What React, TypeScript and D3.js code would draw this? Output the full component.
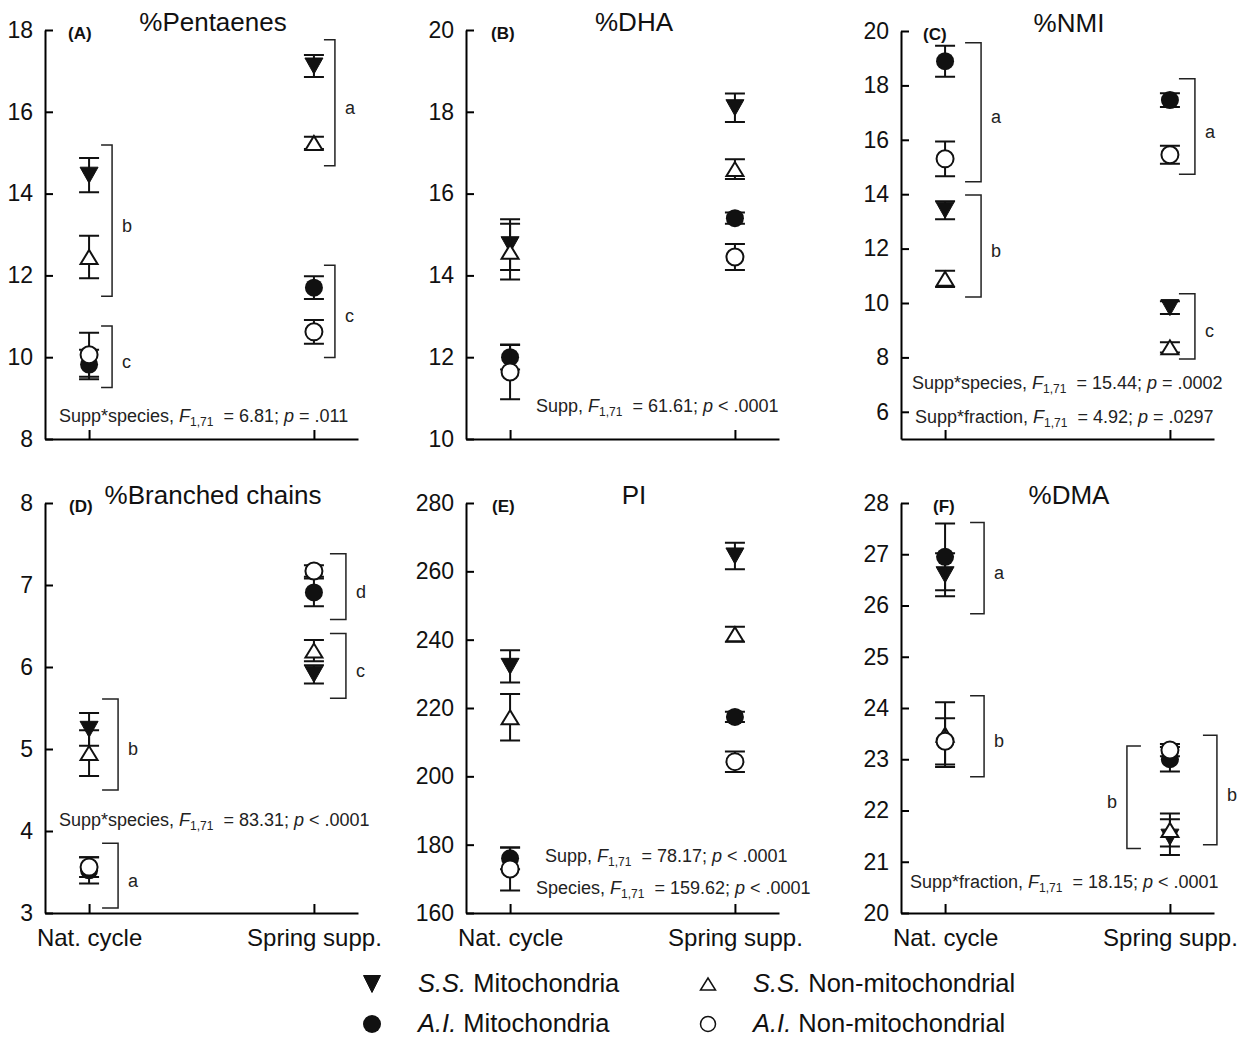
import React, { useEffect, useRef } from "react";
import * as d3 from "d3";

const categories = ["Nat. cycle", "Spring supp."];
const seriesKeys = ["ssMito", "ssNon", "aiMito", "aiNon"];

// (A) %Pentaenes
const pentaenesMean = { ssMito: [14.45, 17.12], ssNon: [12.45, 15.24], aiMito: [9.82, 11.7], aiNon: [10.06, 10.62] };
const pentaenesErr = { ssMito: [0.42, 0.27], ssNon: [0.52, 0.15], aiMito: [0.36, 0.28], aiNon: [0.54, 0.29] };
// (B) %DHA
const dhaMean = { ssMito: [14.75, 18.1], ssNon: [14.58, 16.6], aiMito: [12.0, 15.4], aiNon: [11.64, 14.45] };
const dhaErr = { ssMito: [0.62, 0.35], ssNon: [0.68, 0.24], aiMito: [0.3, 0.14], aiNon: [0.67, 0.32] };
// (C) %NMI
const nmiMean = { ssMito: [13.41, 9.83], ssNon: [10.89, 8.37], aiMito: [18.89, 17.46], aiNon: [15.3, 15.45] };
const nmiErr = { ssMito: [0.33, 0.23], ssNon: [0.3, 0.19], aiMito: [0.57, 0.25], aiNon: [0.64, 0.33] };
// (D) %Branched chains
const branchedMean = { ssMito: [5.24, 5.91], ssNon: [4.95, 6.2], aiMito: [3.52, 6.91], aiNon: [3.56, 7.17] };
const branchedErr = { ssMito: [0.2, 0.11], ssNon: [0.28, 0.13], aiMito: [0.16, 0.17], aiNon: [0.12, 0.07] };
// (E) PI
const piMean = { ssMito: [232.2, 264.5], ssNon: [217.3, 241.6], aiMito: [176.0, 217.4], aiNon: [172.9, 204.3] };
const piErr = { ssMito: [4.7, 3.9], ssNon: [6.8, 2.2], aiMito: [3.2, 1.5], aiNon: [6.3, 3.0] };
// (F) %DMA
const dmaMean = { ssMito: [26.6, 21.48], ssNon: [23.48, 21.62], aiMito: [26.95, 23.0], aiNon: [23.35, 23.18] };
const dmaErr = { ssMito: [0.42, 0.35], ssNon: [0.63, 0.32], aiMito: [0.65, 0.24], aiNon: [0.45, 0.12] };

// significance brackets: category index, value range, letter
const pentaenesBrackets = [
  { cat: 0, lo: 11.49, hi: 15.19, label: "b" },
  { cat: 0, lo: 9.26, hi: 10.76, label: "c" },
  { cat: 1, lo: 14.68, hi: 17.76, label: "a" },
  { cat: 1, lo: 9.99, hi: 12.25, label: "c" },
];
const nmiBrackets = [
  { cat: 0, lo: 14.46, hi: 19.57, label: "a" },
  { cat: 0, lo: 10.22, hi: 13.97, label: "b" },
  { cat: 1, lo: 14.73, hi: 18.24, label: "a" },
  { cat: 1, lo: 7.94, hi: 10.34, label: "c" },
];
const branchedBrackets = [
  { cat: 0, lo: 4.5, hi: 5.61, label: "b" },
  { cat: 0, lo: 3.06, hi: 3.85, label: "a" },
  { cat: 1, lo: 6.58, hi: 7.38, label: "d" },
  { cat: 1, lo: 5.62, hi: 6.41, label: "c" },
];
const dmaBrackets = [
  { cat: 0, lo: 25.84, hi: 27.62, label: "a" },
  { cat: 0, lo: 22.66, hi: 24.24, label: "b" },
  { cat: 1, lo: 21.26, hi: 23.26, label: "b" },
  { cat: 1, lo: 21.33, hi: 23.47, label: "b" },
];

// statistics text: label, F value, p operator, p value
const pentaenesStats = [["Supp*species,", "6.81", "=", ".011"]];
const dhaStats = [["Supp,", "61.61", "<", ".0001"]];
const nmiStats = [["Supp*species,", "15.44", "=", ".0002"], ["Supp*fraction,", "4.92", "=", ".0297"]];
const branchedStats = [["Supp*species,", "83.31", "<", ".0001"]];
const piStats = [["Supp,", "78.17", "<", ".0001"], ["Species,", "159.62", "<", ".0001"]];
const dmaStats = [["Supp*fraction,", "18.15", "<", ".0001"]];

const legendLabels = [
  ["S.S.", " Mitochondria"],
  ["S.S.", " Non-mitochondrial"],
  ["A.I.", " Mitochondria"],
  ["A.I.", " Non-mitochondrial"],
];

const FONT = "'Liberation Sans', Arial, Helvetica, sans-serif";

// layout only
const panels = [
  { tag: "(A)", title: "%Pentaenes", mean: pentaenesMean, err: pentaenesErr, brackets: pentaenesBrackets, bdx: [23, 23, 21, 21], arm: 11,
    stats: pentaenesStats, statPos: [[14, 422]], x0: 45, top: 30, bottom: 439, domain: [8, 18], ticks: d3.range(8, 19, 2), tagDx: 23, labels: false },
  { tag: "(B)", title: "%DHA", mean: dhaMean, err: dhaErr, brackets: [], bdx: [], arm: 15,
    stats: dhaStats, statPos: [[70, 412]], x0: 466, top: 30, bottom: 439, domain: [10, 20], ticks: d3.range(10, 21, 2), tagDx: 25, labels: false },
  { tag: "(C)", title: "%NMI", mean: nmiMean, err: nmiErr, brackets: nmiBrackets, bdx: [36, 36, 25, 25], arm: 16,
    stats: nmiStats, statPos: [[11, 389], [14, 423]], x0: 901, top: 31, bottom: 439, domain: [5, 20], ticks: d3.range(6, 21, 2), tagDx: 22, labels: false },
  { tag: "(D)", title: "%Branched chains", mean: branchedMean, err: branchedErr, brackets: branchedBrackets, bdx: [29, 29, 32, 32], arm: 16,
    stats: branchedStats, statPos: [[14, 826]], x0: 45, top: 503, bottom: 913, domain: [3, 8], ticks: d3.range(3, 9, 1), tagDx: 24, labels: true },
  { tag: "(E)", title: "PI", mean: piMean, err: piErr, brackets: [], bdx: [], arm: 15,
    stats: piStats, statPos: [[79, 862], [70, 894]], x0: 466, top: 503, bottom: 913, domain: [160, 280], ticks: d3.range(160, 281, 20), tagDx: 26, labels: true },
  { tag: "(F)", title: "%DMA", mean: dmaMean, err: dmaErr, brackets: dmaBrackets, bdx: [39, 39, -43, 47], arm: 14,
    stats: dmaStats, statPos: [[9, 888]], x0: 901, top: 503, bottom: 913, domain: [20, 28], ticks: d3.range(20, 29, 1), tagDx: 32, labels: true },
];

const tri = (w, h, down) =>
  down ? `M${-w / 2},${-h / 2}L${w / 2},${-h / 2}L0,${h / 2}Z` : `M${-w / 2},${h / 2}L${w / 2},${h / 2}L0,${-h / 2}Z`;

function drawMarker(g, key, x, y, big) {
  if (key === "ssMito") {
    g.append("path").attr("d", big ? tri(18, 16, true) : tri(17, 17, true)).attr("transform", `translate(${x},${y})`)
      .attr("fill", "#111").attr("stroke", "#111").attr("stroke-width", 1);
  } else if (key === "ssNon") {
    g.append("path").attr("d", big ? tri(17, 14, false) : tri(15, 12, false)).attr("transform", `translate(${x},${y})`)
      .attr("fill", big ? "#fff" : "none").attr("stroke", "#111").attr("stroke-width", big ? 2 : 1.5);
  } else if (key === "aiMito") {
    g.append("circle").attr("cx", x).attr("cy", y).attr("r", 9).attr("fill", "#111");
  } else {
    g.append("circle").attr("cx", x).attr("cy", y).attr("r", big ? 8.5 : 7.5)
      .attr("fill", big ? "#fff" : "none").attr("stroke", "#111").attr("stroke-width", big ? 2 : 1.5);
  }
}

export default function App() {
  const ref = useRef(null);

  useEffect(() => {
    const svg = d3.select(ref.current);
    svg.selectAll("*").remove();

    panels.forEach((p) => {
      const g = svg.append("g").attr("transform", `translate(${p.x0},0)`);
      const x = d3.scalePoint().domain(categories).range([0, 313]).padding(0.196);
      const y = d3.scaleLinear().domain(p.domain).range([p.bottom, p.top]);

      const yAxis = g.append("g").call(
        d3.axisLeft(y).tickValues(p.ticks).tickSizeInner(-8).tickSizeOuter(0).tickPadding(12).tickFormat(d3.format("d"))
      );
      yAxis.select(".domain").attr("stroke-width", 2);
      yAxis.selectAll(".tick line").attr("stroke-width", 2);
      yAxis.selectAll("text").attr("font-size", 23).attr("font-family", FONT).attr("fill", "#111");

      const xAxis = g.append("g").attr("transform", `translate(0,${p.bottom})`).call(
        d3.axisBottom(x).tickSizeInner(-9).tickSizeOuter(0).tickPadding(16).tickFormat((d) => (p.labels ? d : ""))
      );
      xAxis.select(".domain").attr("stroke-width", 2);
      xAxis.selectAll(".tick line").attr("stroke-width", 2);
      xAxis.selectAll("text").attr("font-size", 24).attr("font-family", FONT).attr("fill", "#111");

      g.append("text").attr("x", 168).attr("y", p.top + 1).attr("text-anchor", "middle")
        .attr("font-size", 26).attr("font-family", FONT).attr("fill", "#111").text(p.title);
      g.append("text").attr("x", p.tagDx).attr("y", p.top + 9).attr("font-size", 17).attr("font-weight", "bold")
        .attr("font-family", FONT).attr("fill", "#111").text(p.tag);

      // brackets
      p.brackets.forEach((b, i) => {
        const bx = x(categories[b.cat]) + p.bdx[i];
        const dir = p.bdx[i] < 0 ? 1 : -1;
        const arm = p.arm;
        g.append("path")
          .attr("d", `M${bx + dir * arm},${y(b.hi)}H${bx}V${y(b.lo)}H${bx + dir * arm}`)
          .attr("fill", "none").attr("stroke", "#222").attr("stroke-width", 1.5);
        g.append("text").attr("x", bx - dir * 10).attr("y", (y(b.hi) + y(b.lo)) / 2 + 5)
          .attr("dominant-baseline", "central").attr("text-anchor", dir < 0 ? "start" : "end")
          .attr("font-size", 18).attr("font-family", FONT).attr("fill", "#222").text(b.label);
      });

      // error bars and markers
      seriesKeys.forEach((k) => {
        categories.forEach((c, ci) => {
          const cx = x(c);
          const m = p.mean[k][ci];
          const e = p.err[k][ci];
          g.append("path")
            .attr("d", `M${cx},${y(m + e)}V${y(m - e)}M${cx - 10},${y(m + e)}H${cx + 10}M${cx - 10},${y(m - e)}H${cx + 10}`)
            .attr("fill", "none").attr("stroke", "#111").attr("stroke-width", 2);
          drawMarker(g, k, cx, y(m), true);
        });
      });

      // statistics
      p.stats.forEach((s, i) => {
        const t = g.append("text").attr("x", p.statPos[i][0]).attr("y", p.statPos[i][1])
          .attr("font-size", 18).attr("font-family", FONT).attr("fill", "#222").style("white-space", "pre");
        t.append("tspan").text(s[0] + " ");
        t.append("tspan").attr("font-style", "italic").text("F");
        t.append("tspan").attr("font-size", 12).attr("dy", 4).text("1,71");
        t.append("tspan").attr("dy", -4).text("  = " + s[1] + "; ");
        t.append("tspan").attr("font-style", "italic").text("p");
        t.append("tspan").text(" " + s[2] + " " + s[3]);
      });
    });

    // legend
    const legendPos = [
      [372, 984, 418],
      [708, 984, 753],
      [372, 1024, 418],
      [708, 1024, 753],
    ];
    seriesKeys.forEach((k, i) => {
      const [mx, my, tx] = legendPos[i];
      drawMarker(svg, k, mx, my, false);
      const t = svg.append("text").attr("x", tx).attr("y", my + 8).attr("font-size", 25.5)
        .attr("font-family", FONT).attr("fill", "#111").style("white-space", "pre");
      t.append("tspan").attr("font-style", "italic").text(legendLabels[i][0]);
      t.append("tspan").text(legendLabels[i][1]);
    });
  }, []);

  return (
    <svg
      ref={ref}
      width={1241}
      height={1037}
      style={{ position: "absolute", left: 0, top: 0, background: "#fff" }}
    />
  );
}
